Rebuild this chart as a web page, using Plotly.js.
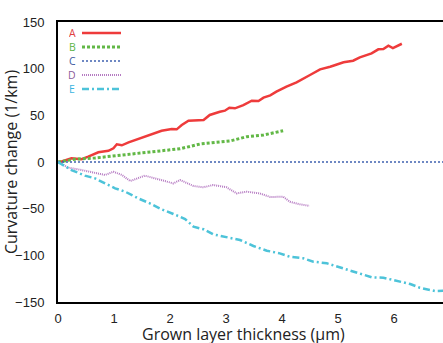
<!DOCTYPE html>
<html>
<head>
<meta charset="utf-8">
<script src="https://cdn.plot.ly/plotly-3.0.1.min.js"></script>
<style>html,body{margin:0;padding:0;background:#fff;}#chart{width:443px;height:343px;}</style>
</head>
<body>
<div id="chart"></div>
<script>
const names = ['A','B','C','D','E'];
const colors = ['#ee3b3b','#62b846','#3f62b0','#b57ac2','#4dc3d9'];
const textColors = ['#e0403f','#5cb446','#3d5a9e','#8a5b9a','#3ab4e0'];
const dashes = ['solid','3px,2px','2px,2px','1px,1px','7px,3px,2px,3px'];
const widths = [2.5,3,1.5,2,2.5];
const xTitle = 'Grown layer thickness (µm)';
const yTitle = 'Curvature change (1/km)';

const xA = [0,0.04,0.24,0.42,0.54,0.72,0.9,0.99,1.05,1.14,1.26,1.43,1.67,1.73,1.85,2.03,2.12,2.21,2.33,2.6,2.71,2.89,2.98,3.06,3.16,3.31,3.46,3.58,3.67,3.79,3.9,4.08,4.26,4.5,4.68,4.86,5.1,5.27,5.39,5.6,5.72,5.81,5.9,5.98,6.14];
const yA = [0,0,4,3,5.7,10.4,12,14.7,19,17.9,21,24.6,29.6,30.7,33.5,35.4,35,39.6,44.3,45,50.4,53.9,55,58.2,57.5,61,65.7,65.4,68.9,71.4,75.3,80.7,85.4,93.2,99.3,102,106.8,108.5,112.1,116.4,120.7,121,124.6,122.1,126.7];
const xB = [0,0.3,0.66,1.02,1.43,1.85,2.18,2.54,3.07,3.37,3.67,4.02];
const yB = [0,3,4.3,6.8,9.3,12.1,14.2,19.3,22.5,27.1,28.9,33.5];
const xC = [0,6.9];
const yC = [0,0];
const xD = [0,0.18,0.42,0.66,0.84,0.99,1.14,1.29,1.4,1.55,1.73,1.91,2.06,2.18,2.27,2.42,2.6,2.77,3.01,3.19,3.37,3.6,3.79,4.02,4.14,4.32,4.49];
const yD = [0,-6,-8.6,-12.1,-13.9,-10.4,-13.9,-20.4,-18.2,-14.6,-17.5,-20.4,-22.9,-19.3,-21.8,-25.7,-27.1,-24.6,-27.1,-33.6,-31.8,-33.6,-37.5,-37.2,-42.5,-45.3,-47];
const xE = [0,0.24,0.48,0.66,0.84,1.02,1.2,1.43,1.64,1.85,2.06,2.27,2.42,2.6,2.77,3.07,3.25,3.49,3.73,3.96,4.14,4.38,4.56,4.8,5.1,5.33,5.6,5.81,6.05,6.29,6.46,6.73,6.9];
const yE = [0,-8.6,-14.6,-17.5,-22.9,-28.2,-31.8,-38.9,-44.3,-50.7,-55.7,-61.1,-69.3,-72.1,-77.5,-81.8,-83.6,-90,-95,-97.9,-101.5,-103.2,-106.8,-108.5,-113.9,-118.6,-123.5,-124,-127.2,-130.7,-134.7,-138.2,-137.9];

const xs = [xA,xB,xC,xD,xE];
const ys = [yA,yB,yC,yD,yE];
const xRange = [0, 6.875];

const traces = names.map((n,i)=>({
  x: xs[i], y: ys[i], name: n, type:'scatter', mode:'lines',
  line:{color:colors[i], width:widths[i], dash:dashes[i]},
  showlegend:false, hoverinfo:'skip'
}));

// manual legend (label left of sample)
const shapes = [];
const annotations = [];
const legTop = 33, legStep = 14, plotTop = 22, plotH = 280, plotL = 58, plotW = 385;
names.forEach((n,i)=>{
  const py = legTop + i*legStep;
  const yp = 1 - (py - plotTop)/plotH;
  shapes.push({type:'line', xref:'paper', yref:'paper',
    x0:(82-plotL)/plotW, x1:(121-plotL)/plotW, y0:yp, y1:yp,
    line:{color:colors[i], width:widths[i], dash:dashes[i]}});
  annotations.push({xref:'paper', yref:'paper', x:(72-plotL)/plotW, y:yp,
    text:n, showarrow:false, xanchor:'center', yanchor:'middle', height:12,
    font:{family:'Open Sans, sans-serif', size:10.5, color:textColors[i]}});
});
// x-axis title placed as annotation below tick labels
annotations.push({xref:'paper', yref:'paper', x:(243-plotL)/plotW, y:-(323-302)/plotH,
  text:xTitle, showarrow:false, xanchor:'center', yanchor:'top', height:18,
  font:{family:'Open Sans, sans-serif', size:16, color:'#222'}});

const layout = {
  width:443, height:343,
  margin:{l:58, r:0, t:22, b:41},
  paper_bgcolor:'#fff', plot_bgcolor:'#fff',
  showlegend:false,
  xaxis:{range:xRange, dtick:1, tick0:0, showgrid:false, zeroline:false,
    showline:true, linecolor:'#000', linewidth:2, mirror:true, ticks:'',
    ticklabelstandoff:3,
    tickfont:{family:'Liberation Sans, Arial, sans-serif', size:13, color:'#222'}},
  yaxis:{range:[-150,150], dtick:50, showgrid:false, zeroline:false,
    showline:true, linecolor:'#000', linewidth:2, ticks:'',
    ticklabelstandoff:9,
    tickfont:{family:'Liberation Sans, Arial, sans-serif', size:13, color:'#222'},
    title:{text:yTitle, standoff:4,
      font:{family:'Open Sans, sans-serif', size:16, color:'#222'}}},
  shapes:shapes, annotations:annotations
};

Plotly.newPlot('chart', traces, layout, {displayModeBar:false, staticPlot:true});
</script>
</body>
</html>
